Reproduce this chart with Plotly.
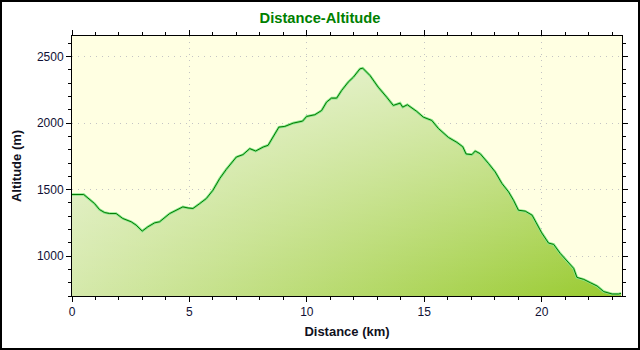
import plotly.graph_objects as go

distance_km = [0.0, 0.5, 0.96, 1.17, 1.38, 1.6, 1.88, 2.16, 2.52, 2.73, 2.99, 3.23, 3.52, 3.73,
               4.16, 4.51, 4.72, 4.94, 5.15, 5.44, 5.72, 6.0, 6.29, 6.57, 7.0, 7.28, 7.57, 7.82,
               8.14, 8.35, 8.56, 8.81, 9.06, 9.42, 9.82, 9.99, 10.34, 10.63, 10.84, 11.05, 11.27,
               11.48, 11.76, 11.98, 12.26, 12.38, 12.69, 13.04, 13.4, 13.68, 13.97, 14.08, 14.28,
               14.68, 14.96, 15.32, 15.6, 16.03, 16.39, 16.64, 16.78, 17.03, 17.17, 17.38, 17.74,
               18.02, 18.31, 18.59, 18.8, 19.01, 19.3, 19.59, 19.77, 20.0, 20.29, 20.51, 20.79,
               21.15, 21.36, 21.5, 21.79, 22.07, 22.36, 22.64, 23.0, 23.28, 23.38]
altitude_m = [1463, 1463, 1395, 1350, 1328, 1320, 1320, 1283, 1258, 1233, 1188, 1220, 1250, 1258,
              1320, 1352, 1370, 1362, 1358, 1395, 1433, 1495, 1583, 1652, 1745, 1763, 1808, 1790,
              1820, 1833, 1895, 1970, 1975, 2000, 2015, 2050, 2063, 2095, 2158, 2188, 2188,
              2245, 2308, 2345, 2408, 2413, 2358, 2270, 2195, 2133, 2150, 2120, 2138,
              2088, 2045, 2020, 1960, 1892, 1855, 1822, 1768, 1763, 1790, 1770, 1695,
              1633, 1545, 1483, 1420, 1345, 1338, 1308, 1250, 1175, 1098, 1088, 1020,
              945, 908, 840, 825, 800, 775, 733, 715, 715, 720]

x_ticks = [0, 5, 10, 15, 20]
y_ticks = [1000, 1500, 2000, 2500]
x_range = [0, 23.42]
y_range = [700, 2655]

FONT = "Liberation Sans, Arial, sans-serif"

fig = go.Figure()
# base fill: horizontal gradient
fig.add_trace(go.Scatter(
    x=distance_km, y=altitude_m, mode="none", fill="tozeroy",
    fillgradient=dict(type="horizontal", colorscale=[[0, "#D5E9AB"], [1, "#98CA2E"]],
                      start=x_range[0], stop=x_range[1]),
    hoverinfo="skip", showlegend=False))
# overlay: vertical whitening toward top
fig.add_trace(go.Scatter(
    x=distance_km, y=altitude_m, mode="none", fill="tozeroy",
    fillgradient=dict(type="vertical",
                      colorscale=[[0, "rgba(255,255,255,0)"], [1, "rgba(255,255,255,0.62)"]],
                      start=y_range[0], stop=max(altitude_m)),
    hoverinfo="skip", showlegend=False))
# halo
fig.add_trace(go.Scatter(x=distance_km, y=altitude_m, mode="lines",
                         line=dict(color="#8AE68A", width=2.6), hoverinfo="skip", showlegend=False))
# line
fig.add_trace(go.Scatter(x=distance_km, y=altitude_m, mode="lines",
                         line=dict(color="#007A00", width=1), showlegend=False))

axis_common = dict(
    showline=True, linecolor="black", linewidth=1, mirror="ticks",
    ticks="outside", ticklen=5, tickcolor="black", tickwidth=1,
    showgrid=True, gridcolor="#C4C4C4", griddash="1px,5px", gridwidth=1,
    zeroline=False,
    tickfont=dict(family=FONT, size=12, color="#101035"),
    title_font=dict(family=FONT, size=13, color="#101020"),
)

fig.update_xaxes(range=x_range, tickvals=x_ticks,
                 minor=dict(dtick=1, ticklen=3, ticks="outside", tickcolor="black", showgrid=False),
                 title_text="<b>Distance (km)</b>", title_standoff=8, **axis_common)
fig.update_yaxes(range=y_range, tickvals=y_ticks,
                 minor=dict(dtick=100, tick0=0, ticklen=3, ticks="outside", tickcolor="black", showgrid=False),
                 title_text="<b>Altitude (m)</b>", title_standoff=12, **axis_common)

# outer border of the image (paper coords relative to plot area 550x260 at left 72, top 36)
fig.add_shape(type="rect", xref="paper", yref="paper",
              x0=(1 - 72) / 550, x1=(639 - 72) / 550,
              y0=(296 - 349) / 260, y1=(296 - 1) / 260,
              line=dict(color="black", width=2), layer="above")

fig.update_layout(
    width=640, height=350,
    margin=dict(l=72, r=18, t=36, b=54),
    paper_bgcolor="white",
    plot_bgcolor="#FFFFE2",
    title=dict(text="<b>Distance-Altitude</b>", x=0.5, xref="container", xanchor="center",
               y=1 - 18 / 350, yref="container", yanchor="middle",
               font=dict(family=FONT, size=14.7, color="#008000")),
)

fig.write_html("out.html")
